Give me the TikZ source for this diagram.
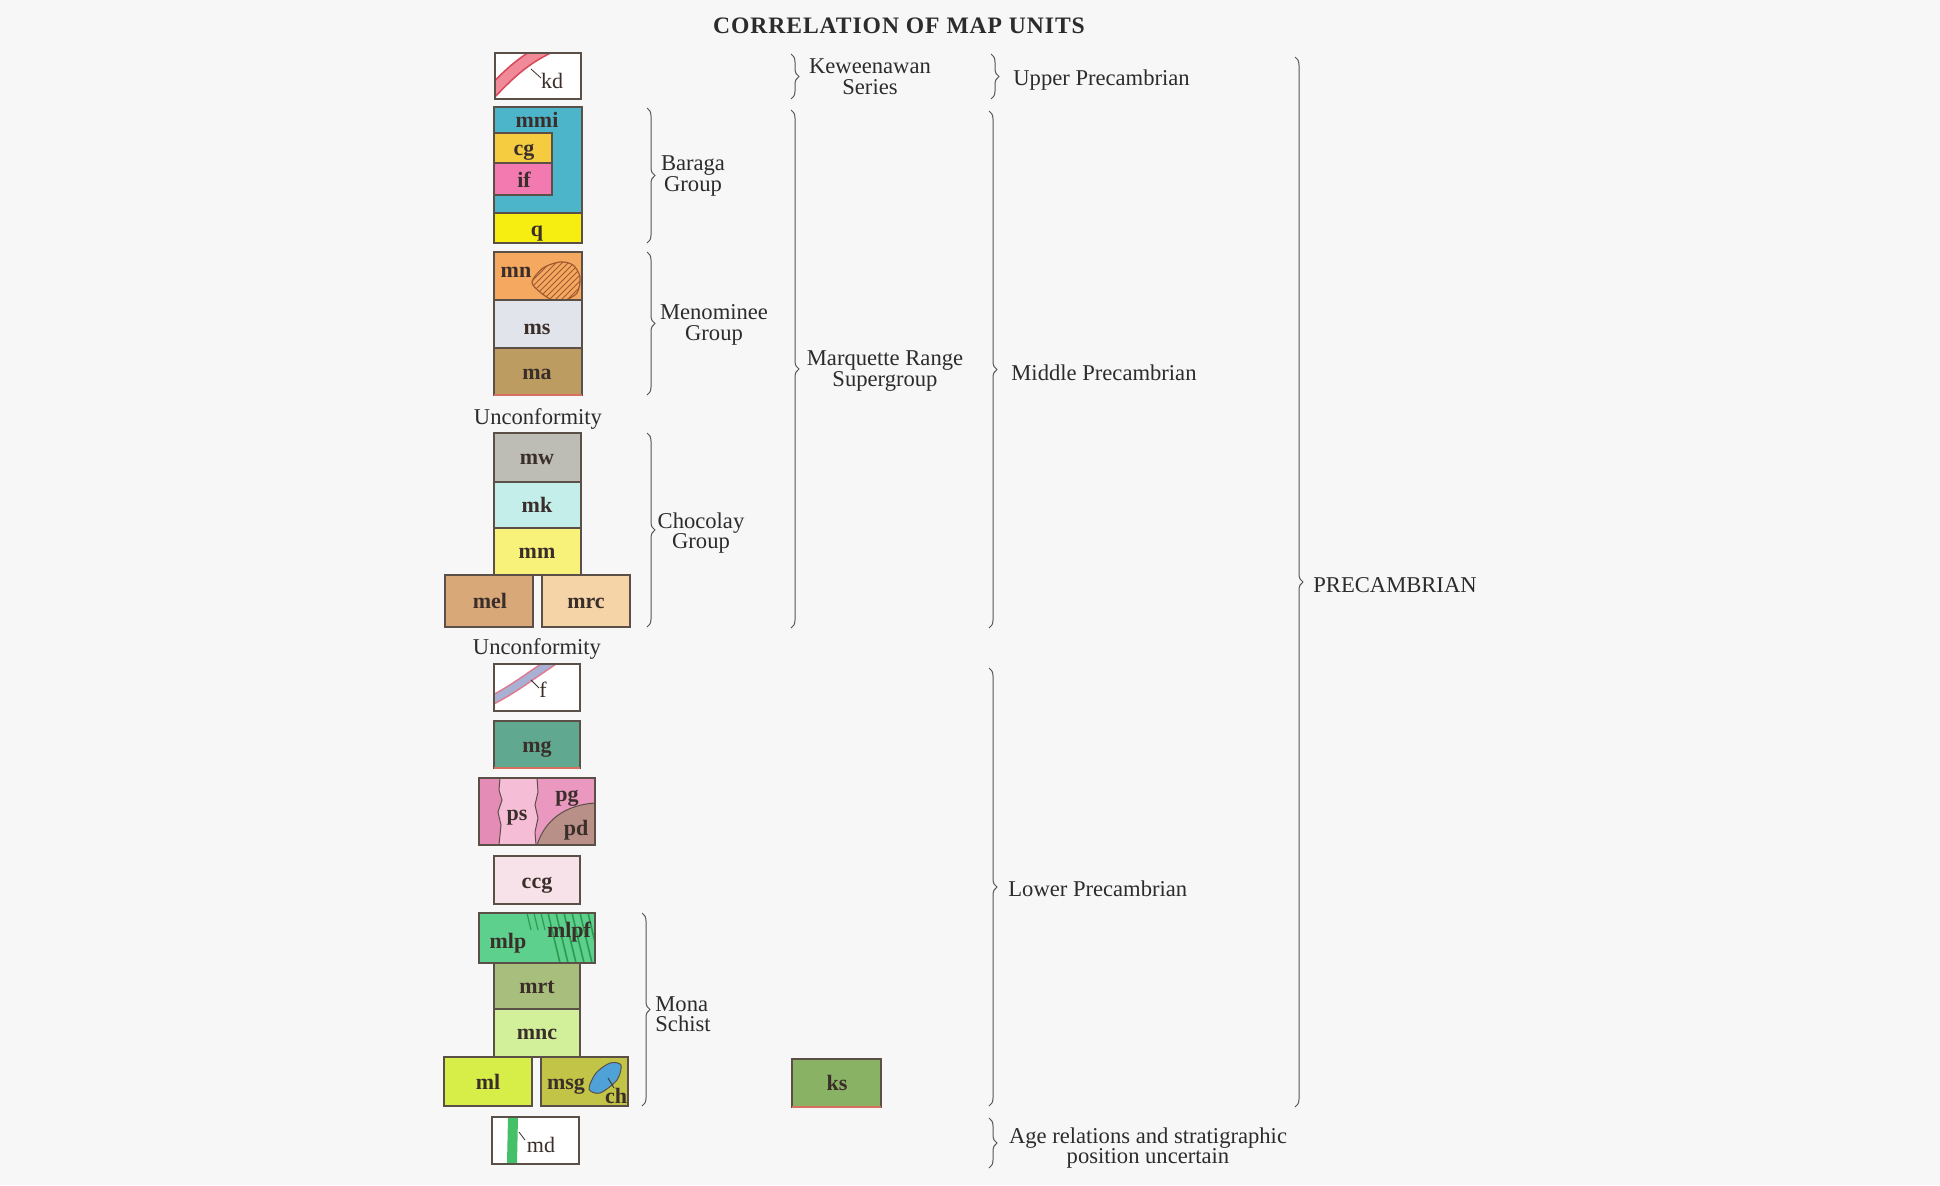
\documentclass[tikz,border=0pt]{standalone}
\usepackage{fontspec}
\setmainfont{Liberation Serif}
\newfontfamily\ttlfont[LetterSpace=4]{Liberation Serif}
\usetikzlibrary{decorations.pathreplacing,patterns}
\definecolor{bg}{HTML}{F7F7F7}
\definecolor{boxc}{HTML}{5A5048}
\definecolor{txtc}{HTML}{2C2C2C}
\definecolor{labc}{HTML}{3A2E2A}
\definecolor{brc}{HTML}{555555}
\definecolor{kdpink}{HTML}{F08A98}
\definecolor{kdedge}{HTML}{D84A5A}
\definecolor{cmmi}{HTML}{4DB5CA}
\definecolor{ccg}{HTML}{F5CC40}
\definecolor{cif}{HTML}{F27AB0}
\definecolor{cq}{HTML}{F5EE10}
\definecolor{cmn}{HTML}{F5A860}
\definecolor{cmnh}{HTML}{A05A30}
\definecolor{cms}{HTML}{E2E4EC}
\definecolor{cma}{HTML}{BC9C60}
\definecolor{cmw}{HTML}{BDBDB5}
\definecolor{cmk}{HTML}{C4EEEA}
\definecolor{cmm}{HTML}{F8F27A}
\definecolor{cmel}{HTML}{D9A878}
\definecolor{cmrc}{HTML}{F5D4A8}
\definecolor{fband}{HTML}{A8B0D4}
\definecolor{fedge}{HTML}{E07A90}
\definecolor{cmg}{HTML}{60A890}
\definecolor{cpsl}{HTML}{E48CB6}
\definecolor{cps}{HTML}{F6BED6}
\definecolor{cpg}{HTML}{EA98C0}
\definecolor{cpd}{HTML}{B89088}
\definecolor{cccg}{HTML}{F8E2EA}
\definecolor{cmlp}{HTML}{5CD08C}
\definecolor{cmlpf}{HTML}{2E9A50}
\definecolor{cmrt}{HTML}{A8BE7C}
\definecolor{cmnc}{HTML}{D2F09A}
\definecolor{cml}{HTML}{D8EE48}
\definecolor{cmsg}{HTML}{C2C448}
\definecolor{cch}{HTML}{4EA2D8}
\definecolor{cmd}{HTML}{44C068}
\definecolor{cks}{HTML}{8AB264}
\definecolor{redline}{HTML}{D87060}
\tikzset{
  unit/.style={draw=boxc, line width=0.6pt},
  lab/.style={font=\fontsize{11}{12}\selectfont\bfseries, text=labc, inner sep=0pt, text height=1.5ex, text depth=0.25ex, yshift=-1.1pt},
  labr/.style={font=\fontsize{11}{12}\selectfont, text=labc, inner sep=0pt, text height=1.5ex, text depth=0.25ex, yshift=-1.1pt},
  txt/.style={font=\fontsize{11.3}{10.3}\selectfont, text=txtc, align=center, inner sep=0pt, yshift=-1.5pt},
  ttl/.style={font=\ttlfont\fontsize{11.8}{14}\selectfont\bfseries, text=txtc, inner sep=0pt},
  br/.style={decorate, decoration={brace, amplitude=4pt}, draw=brc, line width=0.5pt},
  tick/.style={draw=labc, line width=0.4pt}
}
\begin{document}
\begin{tikzpicture}[x=0.5pt,y=-0.5pt]
\fill[bg] (0,0) rectangle (1940,1185);
\useasboundingbox (0,0) rectangle (1940,1185);

\node[ttl] (title) at (899,26) {CORRELATION OF MAP UNITS};

% kd
\fill[white] (495,53) rectangle (581,99);
\begin{scope}
\clip (495,53) rectangle (581,99);
\draw[line width=6.5pt, kdedge] (486,98) .. controls (505,78) and (522,60) .. (550,47);
\draw[line width=4.8pt, kdpink] (486,98) .. controls (505,78) and (522,60) .. (550,47);
\end{scope}
\draw[unit] (495,53) rectangle (581,99);
\draw[tick] (531,69) -- (541,78);
\node[labr] (kd) at (552,81) {kd};

% Baraga group
\draw[unit, fill=cmmi] (494,107) rectangle (582,243);
\draw[unit, fill=ccg] (494,133) rectangle (552,163);
\draw[unit, fill=cif] (494,163) rectangle (552,195);
\draw[unit, fill=cq] (494,213) rectangle (582,243);
\node[lab] (mmi) at (537,120) {mmi};
\node[lab] (cg) at (524,148) {cg};
\node[lab] (if) at (524,180) {if};
\node[lab] (q) at (537,229) {q};

% Menominee group
\draw[unit, fill=cmn] (494,252) rectangle (582,300);
\begin{scope}
\clip (494,252) rectangle (582,300);
\fill[pattern=north east lines, pattern color=cmnh] plot[smooth cycle] coordinates {(532,282) (543,268) (560,262) (573,265) (580,277) (577,293) (563,301) (552,300) (540,292)};
\draw[cmnh, line width=0.6pt] plot[smooth cycle] coordinates {(532,282) (543,268) (560,262) (573,265) (580,277) (577,293) (563,301) (552,300) (540,292)};
\end{scope}
\draw[unit, fill=cms] (494,300) rectangle (582,348);
\draw[unit, fill=cma] (494,348) rectangle (582,395);
\draw[redline, line width=0.7pt] (494,395) -- (582,395);
\node[lab] (mn) at (516,270) {mn};
\node[lab] (ms) at (537,327) {ms};
\node[lab] (ma) at (537,372) {ma};

\node[txt] (unc1) at (538,416) {Unconformity};

% Chocolay group
\draw[unit, fill=cmw] (494,433) rectangle (581,482);
\draw[unit, fill=cmk] (494,482) rectangle (581,528);
\draw[unit, fill=cmm] (494,528) rectangle (581,575);
\draw[unit, fill=cmel] (445,575) rectangle (533,627);
\draw[unit, fill=cmrc] (542,575) rectangle (630,627);
\node[lab] (mw) at (537,457) {mw};
\node[lab] (mk) at (537,505) {mk};
\node[lab] (mm) at (537,551) {mm};
\node[lab] (mel) at (490,601) {mel};
\node[lab] (mrc) at (586,601) {mrc};

\node[txt] (unc2) at (537,646) {Unconformity};

% f
\fill[white] (494,664) rectangle (580,711);
\begin{scope}
\clip (494,664) rectangle (580,711);
\draw[line width=5pt, fedge] (486,703) .. controls (510,692) and (530,676) .. (556,659);
\draw[line width=3.4pt, fband] (486,703) .. controls (510,692) and (530,676) .. (556,659);
\end{scope}
\draw[unit] (494,664) rectangle (580,711);
\draw[tick] (531,680) -- (539,688);
\node[labr] (f) at (543,690) {f};

% mg
\draw[unit, fill=cmg] (494,721) rectangle (580,768);
\draw[redline, line width=0.7pt] (494,768) -- (580,768);
\node[lab] (mg) at (537,745) {mg};

% ps pg pd
\fill[cpsl] (479,778) rectangle (595,845);
\fill[cps] (500,778) -- (499,790) -- (502,800) -- (498,812) -- (501,825) -- (499,845) -- (536,845) -- (535,832) -- (538,818) -- (535,805) -- (538,792) -- (537,778) -- cycle;
\fill[cpg] (537,778) -- (538,792) -- (535,805) -- (538,818) -- (535,832) -- (536,845) -- (595,845) -- (595,778) -- cycle;
\fill[cpd] (537,845) .. controls (545,820) and (565,805) .. (595,803) -- (595,845) -- cycle;
\draw[boxc, line width=0.5pt] (500,778) -- (499,790) -- (502,800) -- (498,812) -- (501,825) -- (499,845);
\draw[boxc, line width=0.5pt] (537,778) -- (538,792) -- (535,805) -- (538,818) -- (535,832) -- (536,845);
\draw[boxc, line width=0.5pt] (537,845) .. controls (545,820) and (565,805) .. (595,803);
\draw[unit] (479,778) rectangle (595,845);
\node[lab] (ps) at (517,813) {ps};
\node[lab] (pg) at (567,794) {pg};
\node[lab] (pd) at (576,828) {pd};

% ccg
\draw[unit, fill=cccg] (494,856) rectangle (580,904);
\node[lab] (ccg) at (537,881) {ccg};

% Mona Schist
\draw[unit, fill=cmlp] (479,913) rectangle (595,963);
\begin{scope}
\clip (479,913) rectangle (595,963);
\foreach \x in {548,556,564,572,580,588}
  \draw[cmlpf, line width=0.8pt] (\x,913) -- (\x+12,963);
\foreach \x in {527,534,541}
  \draw[cmlpf, line width=0.6pt] (\x,913) -- (\x+4,930);
\end{scope}
\draw[unit] (479,913) rectangle (595,963);
\node[lab] (mlp) at (508,941) {mlp};
\node[lab] (mlpf) at (569,930) {mlpf};
\draw[unit, fill=cmrt] (494,963) rectangle (580,1009);
\draw[unit, fill=cmnc] (494,1009) rectangle (580,1057);
\draw[unit, fill=cml] (444,1057) rectangle (532,1106);
\draw[unit, fill=cmsg] (541,1057) rectangle (628,1106);
\node[lab] (mrt) at (537,986) {mrt};
\node[lab] (mnc) at (537,1032) {mnc};
\node[lab] (ml) at (488,1082) {ml};
\node[lab] (msg) at (566,1082) {msg};
\fill[cch, draw=boxc, line width=0.5pt] plot[smooth cycle] coordinates {(589,1089) (596,1073) (610,1063) (621,1065) (617,1080) (600,1093)};
\draw[tick] (608,1078) -- (614,1088);
\node[lab] (ch) at (616,1096) {ch};

% md
\fill[white] (492,1117) rectangle (579,1164);
\fill[cmd] (508,1117) -- (518,1117) -- (517,1164) -- (507,1164) -- cycle;
\draw[unit] (492,1117) rectangle (579,1164);
\draw[tick] (519,1132) -- (525,1140);
\node[labr] (md) at (541,1145) {md};

% ks
\draw[unit, fill=cks] (792,1059) rectangle (881,1107);
\draw[redline, line width=0.8pt] (792,1107) -- (881,1107);
\node[lab] (ks) at (837,1083) {ks};

% braces, first column
\draw[br] (647,108) -- (647,243);
\node[txt] (baraga) at (693,173) {Baraga\\Group};
\draw[br] (647,252) -- (647,395);
\node[txt] (menom) at (714,322) {Menominee\\Group};
\draw[br] (647,433) -- (647,627);
\node[txt] (choc) at (701,530) {Chocolay\\Group};
\draw[br] (642,913) -- (642,1106);
\node[txt, align=left, anchor=west] (mona) at (655,1011) {Mona\\Schist};

% second column
\draw[br] (791,54) -- (791,99);
\node[txt] (kew) at (870,74) {Keweenawan\\Series};
\draw[br] (791,110) -- (791,628);
\node[txt] (mrs) at (885,368) {Marquette Range\\Supergroup};

% third column
\draw[br] (991,54) -- (991,99);
\node[txt, anchor=west] (upc) at (1013,77) {Upper Precambrian};
\draw[br] (989,111) -- (989,628);
\node[txt, anchor=west] (mpc) at (1011,370) {Middle Precambrian};
\draw[br] (989,668) -- (989,1106);
\node[txt, anchor=west] (lpc) at (1008,886) {Lower Precambrian};
\draw[br] (989,1118) -- (989,1168);
\node[txt] (age) at (1148,1145) {Age relations and stratigraphic\\position uncertain};

% fourth column
\draw[br] (1295,57) -- (1295,1107);
\node[txt, anchor=west] (pc) at (1313,582) {PRECAMBRIAN};
\end{tikzpicture}
\end{document}
